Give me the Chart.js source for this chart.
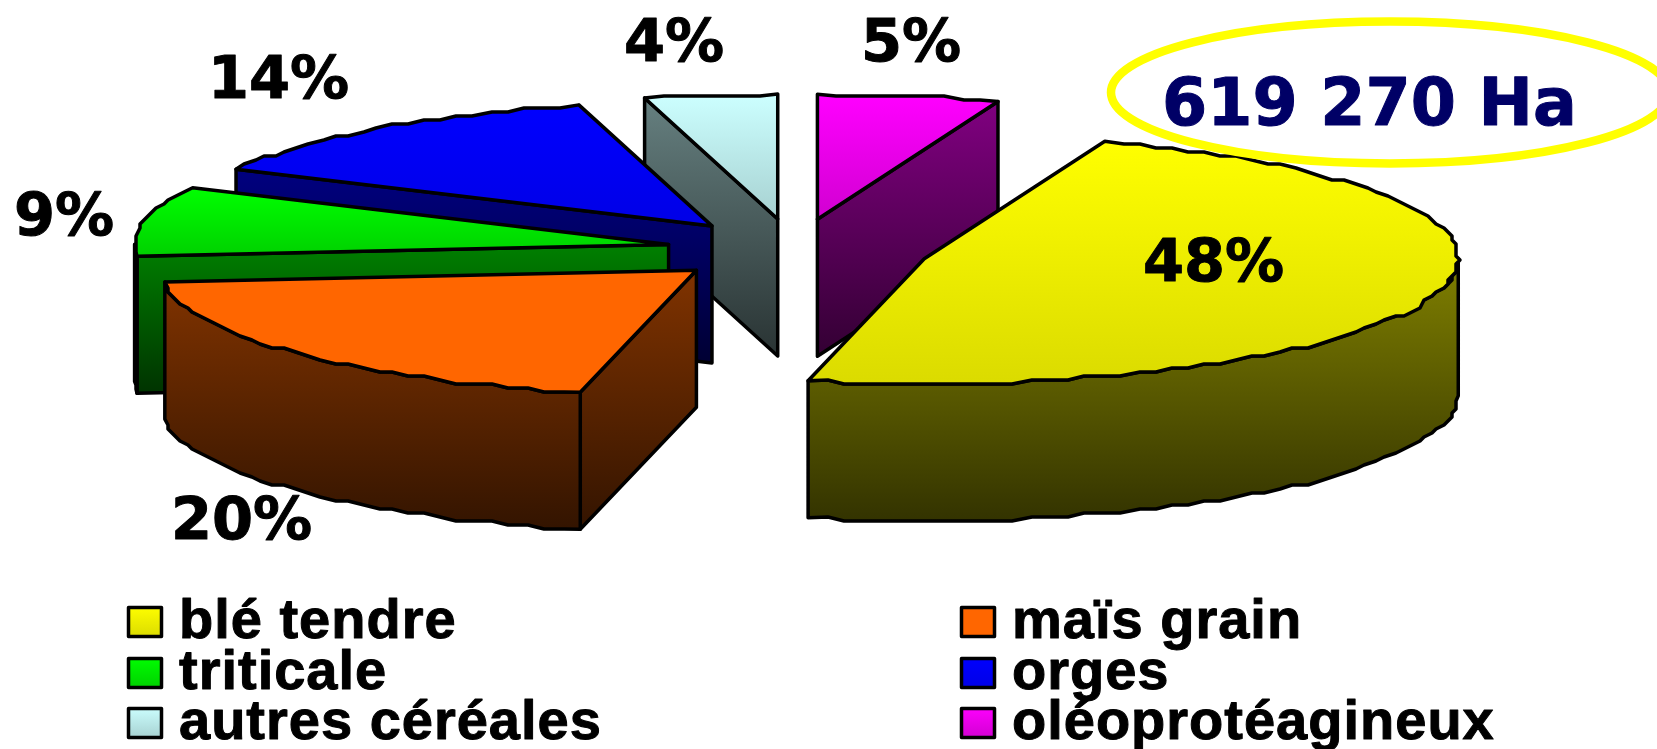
<!DOCTYPE html>
<html lang="fr">
<head>
<meta charset="utf-8">
<title>Assolement</title>
<style>
html,body{margin:0;padding:0;background:#fff;overflow:hidden}
canvas{display:block;position:absolute;left:0;top:0}
</style>
<script src="https://cdn.jsdelivr.net/npm/chart.js@4/dist/chart.umd.min.js"></script>
</head>
<body>
<canvas id="c" width="1657" height="749"></canvas>
<script>
const categories = ['blé tendre','maïs grain','triticale','orges','autres céréales','oléoprotéagineux'];
const shares = [48,20,9,13.5,4.01,5.49];
const sliceRgb = [[255,255,0],[255,102,0],[0,255,0],[0,0,255],[204,255,255],[255,0,255]];
const faceShade = [.86,1,.82,.9,.82,.82];
const explode = [.253,.245,.24,.247,.25,.25];
const totalLabel = '619 270 Ha';
const shareLabelPos = [[1143,281],[171,539],[14,235],[208,98],[624,61],[861,61]];
const legendPos = [[127,606],[960,606],[127,657],[960,657],[127,707],[960,707]];
const drawOrder = [4,5,3,2,1,0];

const RX = 534, RY = 125, DEPTH = 137, GRID = 4;
const sans = '"DejaVu Sans"', arial = '"Liberation Sans"';
const c = (rgb, k) => `rgb(${rgb.map(v => Math.round(v * k)).join(',')})`;
const snap = v => Math.round(v / GRID) * GRID;

function vGrad(ctx, y0, y1, rgb, k0, k1) {
  const g = ctx.createLinearGradient(0, y0, 0, y1);
  g.addColorStop(0, c(rgb, k0));
  g.addColorStop(1, c(rgb, k1));
  return g;
}
function poly(ctx, pts, fill) {
  ctx.beginPath();
  pts.forEach((p, i) => i ? ctx.lineTo(p[0], p[1]) : ctx.moveTo(p[0], p[1]));
  ctx.closePath();
  ctx.fillStyle = fill;
  ctx.fill();
  ctx.stroke();
}
function arcPts(cx, cy, a0, a1) {
  const n = Math.max(2, Math.round((a1 - a0) / (2 * Math.PI / 180)));
  const pts = [];
  for (let i = 0; i <= n; i++) {
    const a = a0 + (a1 - a0) * i / n;
    let x = cx + Math.cos(a) * RX, y = cy + Math.sin(a) * RY;
    if (i > 0 && i < n) { x = snap(x); y = snap(y); }
    pts.push([x, y]);
  }
  return pts;
}
const down = pts => pts.map(p => [p[0], p[1] + DEPTH]);
const yRange = pts => [Math.min(...pts.map(p => p[1])), Math.max(...pts.map(p => p[1]))];

const pie3d = {
  id: 'pie3d',
  beforeDatasetsDraw(chart) {
    const ctx = chart.ctx, arcs = chart.getDatasetMeta(0).data;
    ctx.save();
    ctx.lineWidth = 3.5;
    ctx.lineJoin = 'round';
    ctx.strokeStyle = '#000';
    drawOrder.forEach(i => {
      const el = arcs[i], rgb = sliceRgb[i];
      const a0 = el.startAngle, a1 = el.endAngle, mid = (a0 + a1) / 2;
      const cx = el.x + Math.cos(mid) * RX * explode[i];
      const cy = el.y + Math.sin(mid) * RY * explode[i];
      const apex = [cx, cy];
      const top = arcPts(cx, cy, a0, a1);
      const wall = (pts) => {
        const all = pts.concat(down(pts).reverse());
        const [y0, y1] = yRange(all);
        poly(ctx, all, vGrad(ctx, y0, y1, rgb, .5, .2));
      };
      if (Math.cos(a1) > 1e-6) wall([apex, top[top.length - 1]]);
      if (Math.cos(a0) < -1e-6) wall([apex, top[0]]);
      const f0 = Math.max(a0, 0), f1 = Math.min(a1, Math.PI);
      if (f1 > f0) wall(arcPts(cx, cy, f0, f1));
      const face = [apex].concat(top);
      const [t0, t1] = yRange(face);
      poly(ctx, face, vGrad(ctx, t0, t1, rgb, 1, faceShade[i]));
    });
    ctx.restore();
    return false;
  },
  afterDraw(chart) {
    const ctx = chart.ctx;
    ctx.save();
    ctx.textBaseline = 'alphabetic';
    ctx.lineJoin = 'round';
    ctx.fillStyle = '#000';
    ctx.strokeStyle = '#000';
    ctx.lineWidth = 1;
    ctx.font = `bold 59px ${sans}`;
    shares.forEach((v, i) => {
      const t = Math.round(v) + '%';
      ctx.fillText(t, shareLabelPos[i][0], shareLabelPos[i][1]);
      ctx.strokeText(t, shareLabelPos[i][0], shareLabelPos[i][1]);
    });

    ctx.strokeStyle = '#ffff00';
    ctx.lineWidth = 8.5;
    ctx.beginPath();
    ctx.ellipse(1390, 92.5, 279, 71, 0, 0, 2 * Math.PI);
    ctx.stroke();
    ctx.fillStyle = ctx.strokeStyle = '#000066';
    ctx.lineWidth = 1;
    ctx.font = `bold 65px ${sans}`;
    ctx.fillText(totalLabel, 1162, 125);
    ctx.strokeText(totalLabel, 1162, 125);

    ctx.font = `bold 56px ${arial}`;
    ctx.letterSpacing = '1px';
    categories.forEach((name, i) => {
      const [x, y] = legendPos[i];
      ctx.lineWidth = 3.5;
      ctx.strokeStyle = '#000';
      ctx.fillStyle = vGrad(ctx, y, y + 31, sliceRgb[i], 1, faceShade[i]);
      ctx.beginPath();
      ctx.rect(x + 1.5, y + 1.5, 33, 29);
      ctx.fill();
      ctx.stroke();
      ctx.fillStyle = '#000';
      ctx.lineWidth = 1;
      ctx.fillText(name, x + 52, y + 32);
      ctx.strokeText(name, x + 52, y + 32);
    });
    ctx.restore();
  }
};

new Chart(document.getElementById('c'), {
  type: 'pie',
  data: {
    labels: categories,
    datasets: [{ data: shares, backgroundColor: sliceRgb.map(v => c(v, 1)), borderWidth: 0 }]
  },
  options: {
    responsive: false,
    animation: false,
    rotation: 19.764,
    events: [],
    layout: { padding: { right: 68, bottom: 249 } },
    plugins: { legend: { display: false }, tooltip: { enabled: false } }
  },
  plugins: [pie3d]
});
</script>
</body>
</html>
